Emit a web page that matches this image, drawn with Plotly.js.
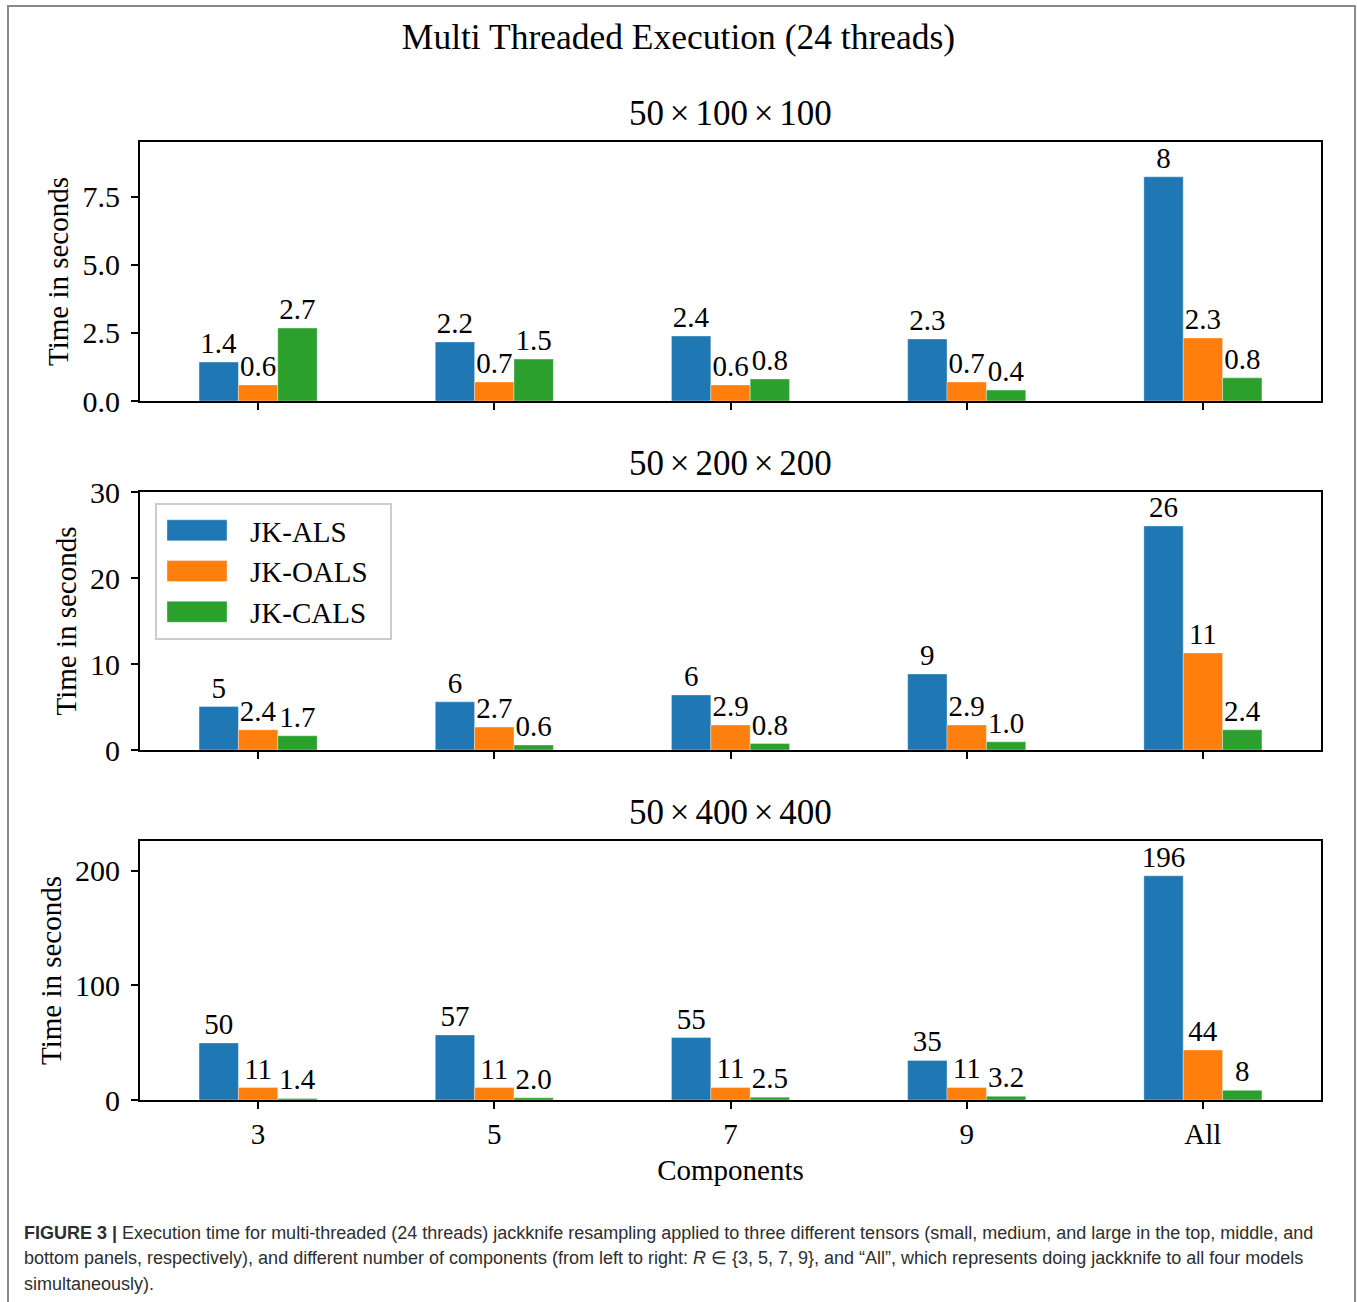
<!DOCTYPE html>
<html>
<head>
<meta charset="utf-8">
<script src="https://cdn.plot.ly/plotly-3.0.1.min.js"></script>
<style>
  html, body { margin: 0; padding: 0; background: #ffffff; }
  #chart { width: 1357px; height: 1302px; }
</style>
</head>
<body>
<div id="chart"></div>
<script>
// ---------- data ----------
const categories = ['3', '5', '7', '9', 'All'];
const seriesNames = ['JK-ALS', 'JK-OALS', 'JK-CALS'];

// Panel 1: 50×100×100
const als1  = [1.43, 2.17, 2.39, 2.28, 8.24];
const oals1 = [0.59, 0.70, 0.59, 0.70, 2.32];
const cals1 = [2.68, 1.54, 0.81, 0.40, 0.85];
const alsLabels1  = ['1.4', '2.2', '2.4', '2.3', '8'];
const oalsLabels1 = ['0.6', '0.7', '0.6', '0.7', '2.3'];
const calsLabels1 = ['2.7', '1.5', '0.8', '0.4', '0.8'];

// Panel 2: 50×200×200
const als2  = [5.05, 5.6, 6.4, 8.84, 26.05];
const oals2 = [2.35, 2.67, 2.9, 2.9, 11.28];
const cals2 = [1.65, 0.58, 0.75, 0.95, 2.35];
const alsLabels2  = ['5', '6', '6', '9', '26'];
const oalsLabels2 = ['2.4', '2.7', '2.9', '2.9', '11'];
const calsLabels2 = ['1.7', '0.6', '0.8', '1.0', '2.4'];

// Panel 3: 50×400×400
const als3  = [49.8, 56.8, 54.5, 34.5, 195.6];
const oals3 = [10.8, 10.8, 11.0, 11.0, 43.7];
const cals3 = [1.4, 2.0, 2.5, 3.2, 8.4];
const alsLabels3  = ['50', '57', '55', '35', '196'];
const oalsLabels3 = ['11', '11', '11', '11', '44'];
const calsLabels3 = ['1.4', '2.0', '2.5', '3.2', '8'];

const panelTitles = ['50\u2006×\u2006100\u2006×\u2006100', '50\u2006×\u2006200\u2006×\u2006200', '50\u2006×\u2006400\u2006×\u2006400'];
const yTickVals = [[0, 2.5, 5, 7.5], [0, 10, 20, 30], [0, 100, 200]];
const yTickText = [['0.0', '2.5', '5.0', '7.5'], ['0', '10', '20', '30'], ['0', '100', '200']];
const yRanges = [[0, 9.52], [0, 30], [0, 226]];

// ---------- styling ----------
const W = 1357, H = 1302;
const SERIF = 'Liberation Serif, Times New Roman, Times, serif';
const SANS = 'Liberation Sans, Arial, Helvetica, sans-serif';
const colors = ['#1f77b4', '#ff7f0e', '#2ca02c'];
const px = x => x / W;
const py = y => 1 - y / H;

const panels = [
  { vals: [als1, oals1, cals1], labels: [alsLabels1, oalsLabels1, calsLabels1] },
  { vals: [als2, oals2, cals2], labels: [alsLabels2, oalsLabels2, calsLabels2] },
  { vals: [als3, oals3, cals3], labels: [alsLabels3, oalsLabels3, calsLabels3] }
];

const traces = [];
panels.forEach((p, pi) => {
  const suffix = pi === 0 ? '' : String(pi + 1);
  p.vals.forEach((v, si) => {
    traces.push({
      type: 'bar',
      name: seriesNames[si],
      legendgroup: seriesNames[si],
      showlegend: pi === 0,
      x: categories,
      y: v,
      text: p.labels[si],
      textposition: 'outside',
      constraintext: 'none',
      cliponaxis: false,
      textfont: { family: SERIF, size: 29, color: '#000000' },
      marker: { color: colors[si], line: { width: 0.8, color: 'rgba(255,255,255,0.45)' } },
      xaxis: 'x' + suffix,
      yaxis: 'y' + suffix,
      hoverinfo: 'x+y+name'
    });
  });
});

const plotTop = [142, 492, 841];
const plotBot = [401, 750, 1100];

const axisCommon = {
  showline: true, mirror: true, linecolor: '#000000', linewidth: 2,
  ticks: 'outside', ticklen: 7, tickwidth: 2, tickcolor: '#000000',
  showgrid: false, zeroline: false,
  tickfont: { family: SERIF, size: 30, color: '#000000' }
};

const layout = {
  width: W, height: H,
  margin: { l: 0, r: 0, t: 0, b: 0, pad: 0 },
  paper_bgcolor: '#ffffff', plot_bgcolor: '#ffffff',
  barmode: 'group', bargap: 0.5, bargroupgap: 0,
  font: { family: SERIF, color: '#000000' },
  title: {
    text: 'Multi Threaded Execution (24 threads)',
    x: 0.5, xanchor: 'center', y: 1 - 37 / H, yanchor: 'middle',
    font: { family: SERIF, size: 35.5, color: '#000000' }
  },
  showlegend: true,
  legend: {
    x: px(155), y: py(503), xanchor: 'left', yanchor: 'top',
    bgcolor: '#ffffff', bordercolor: '#cccccc', borderwidth: 2,
    font: { family: SERIF, size: 29, color: '#000000' },
    itemwidth: 83, traceorder: 'normal'
  },
  annotations: [],
  shapes: [
    { type: 'rect', xref: 'paper', yref: 'paper', x0: px(8), x1: px(1355), y0: -0.01, y1: py(6),
      line: { color: '#8a8a8a', width: 2 }, fillcolor: 'rgba(0,0,0,0)', layer: 'below' }
  ]
};

for (let i = 0; i < 3; i++) {
  const s = i === 0 ? '' : String(i + 1);
  layout['xaxis' + s] = Object.assign({}, axisCommon, {
    type: 'category', range: [-0.5, 4.5],
    domain: [px(140), px(1321)],
    anchor: 'y' + s,
    showticklabels: i === 2,
    tickfont: { family: SERIF, size: 29, color: '#000000' }
  });
  layout['yaxis' + s] = Object.assign({}, axisCommon, {
    range: yRanges[i],
    domain: [py(plotBot[i]), py(plotTop[i])],
    anchor: 'x' + s,
    tickmode: 'array', tickvals: yTickVals[i], ticktext: yTickText[i],
    ticklabelstandoff: 5,
    title: { text: 'Time in seconds', font: { family: SERIF, size: 29, color: '#000000' }, standoff: 5 }
  });
  layout.annotations.push({
    text: panelTitles[i], xref: 'paper', yref: 'paper',
    x: px(730), y: py(plotTop[i] - 29), xanchor: 'center', yanchor: 'middle',
    showarrow: false, font: { family: SERIF, size: 35, color: '#000000' }
  });
}
layout.xaxis3.title = { text: 'Components', font: { family: SERIF, size: 29, color: '#000000' }, standoff: 11 };

const captionLines = [
  '<b>FIGURE 3 |</b> Execution time for multi-threaded (24 threads) jackknife resampling applied to three different tensors (small, medium, and large in the top, middle, and',
  'bottom panels, respectively), and different number of components (from left to right: <i>R</i> ∈ {3, 5, 7, 9}, and “All”, which represents doing jackknife to all four models',
  'simultaneously).'
];
const captionY = [1233, 1258, 1284];
captionLines.forEach((t, i) => {
  layout.annotations.push({
    text: t, xref: 'paper', yref: 'paper', x: px(22), y: py(captionY[i]),
    xanchor: 'left', yanchor: 'middle', align: 'left', showarrow: false,
    font: { family: SANS, size: 18, color: '#2e2e2e' }
  });
});

Plotly.newPlot('chart', traces, layout, { displayModeBar: false, staticPlot: true }).then(() => {
  document.querySelectorAll('#chart .legend .legendpoints path').forEach(p => {
    p.setAttribute('d', 'M23.5,10.5H-36.5V-10.5H23.5Z');
  });
  const bg = document.querySelector('#chart .legend rect.bg');
  if (bg) { bg.setAttribute('width', '235'); }
});
</script>
</body>
</html>
